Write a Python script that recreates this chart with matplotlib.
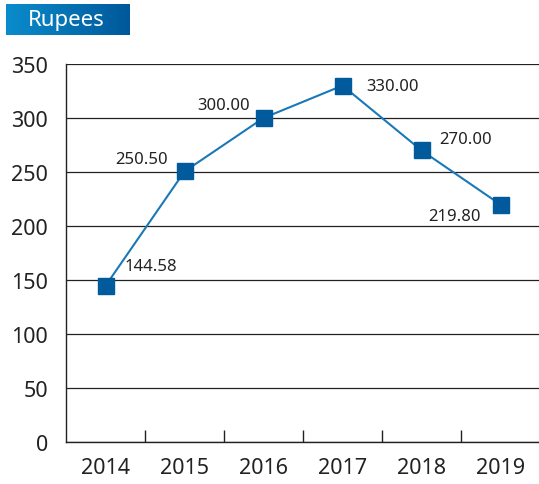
import matplotlib
matplotlib.use("Agg")
import matplotlib.pyplot as plt
import numpy as np
from matplotlib.colors import LinearSegmentedColormap

plt.rcParams['font.family'] = ['Noto Sans', 'DejaVu Sans']

years = ["2014", "2015", "2016", "2017", "2018", "2019"]
values = [144.58, 250.50, 300.00, 330.00, 270.00, 219.80]
labels = ["144.58", "250.50", "300.00", "330.00", "270.00", "219.80"]
yticks = [0, 50, 100, 150, 200, 250, 300, 350]
# label offsets in points (dx, dy, ha)
offsets = [(14, 14, 'left'), (-12, 9, 'right'), (-10, 9, 'right'),
           (17, 0, 'left'), (13, 8, 'left'), (-14, -8, 'right')]

fig = plt.figure(figsize=(5.39, 4.85), dpi=100)
ax = fig.add_axes([66/539, 42/485, 474/539, 378/485])

x = np.arange(len(years))
ax.plot(x, values, color='#1a78b8', lw=1.5, marker='s', markersize=11,
        markerfacecolor='#005a9c', markeredgecolor='#005a9c', zorder=3)
for xi, v, lab, (dx, dy, ha) in zip(x, values, labels, offsets):
    ax.annotate(lab, (xi, v), xytext=(dx, dy), textcoords='offset points',
                ha=ha, va='center', fontsize=12, color='#222222')

ax.set_xlim(-0.5, len(years) - 0.5)
ax.set_ylim(0, 350)
ax.set_yticks(yticks)
ax.set_yticklabels([str(t) for t in yticks], fontsize=15.5, color='#222222')
ax.yaxis.grid(True, color='#222222', lw=0.9)
ax.set_axisbelow(True)
ax.tick_params(axis='y', length=0, pad=13)

ax.set_xticks(x)
ax.set_xticklabels(years, fontsize=15.5, color='#222222')
ax.tick_params(axis='x', which='major', length=0, pad=11)
ax.set_xticks(np.arange(0.5, len(years) - 0.5, 1), minor=True)
ax.tick_params(axis='x', which='minor', direction='in', length=9, width=1, color='#222222')

for s in ['top', 'right']:
    ax.spines[s].set_visible(False)
for s in ['left', 'bottom']:
    ax.spines[s].set_color('#222222')
    ax.spines[s].set_linewidth(1.0)

# title box with gradient
tax = fig.add_axes([6/539, 1 - 36/485, 124/539, 31/485])
grad = np.linspace(0, 1, 256).reshape(1, -1)
cmap = LinearSegmentedColormap.from_list('g', ['#0a8ccc', '#00589a'])
tax.imshow(grad, aspect='auto', cmap=cmap, extent=[0, 1, 0, 1])
tax.text(0.18, 0.5, 'Rupees', color='white', fontsize=16, va='center', ha='left',
         transform=tax.transAxes)
tax.axis('off')

fig.savefig('out.png', dpi=100)
